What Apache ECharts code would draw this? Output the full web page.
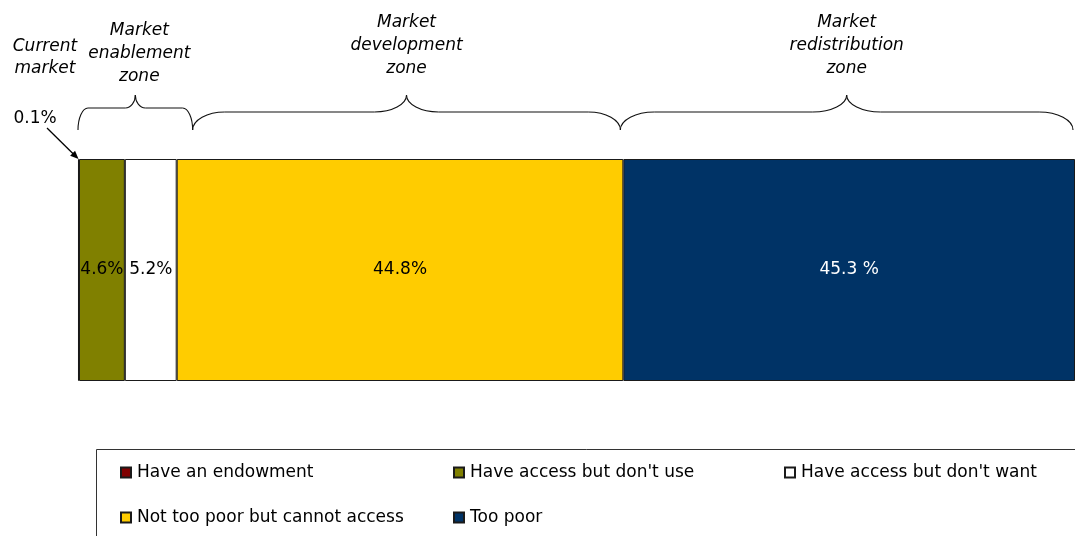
<!DOCTYPE html>
<html>
<head>
<meta charset="utf-8">
<script src="https://cdn.jsdelivr.net/npm/echarts@6/dist/echarts.min.js"></script>
<style>
  html, body { margin: 0; padding: 0; background: #ffffff; }
  #chart { width: 1075px; height: 536px; }
</style>
</head>
<body>
<div id="chart"></div>
<script>
// Population segments (share of total, %)
const categories = ['Population'];
const seriesNames = [
  'Have an endowment',
  "Have access but don't use",
  "Have access but don't want",
  'Not too poor but cannot access',
  'Too poor'
];
const seriesValues = [0.1, 4.6, 5.2, 44.8, 45.3];
const labelSuffixes = ['%', '%', '%', '%', ' %'];
const seriesColors = ['#800000', '#808000', '#ffffff', '#ffcc00', '#003366'];
const labelColors = ['#000000', '#000000', '#000000', '#000000', '#ffffff'];

// Zones marked by braces above the bar (start/end on the % axis)
const zoneNames = ['Market\nenablement\nzone', 'Market\ndevelopment\nzone', 'Market\nredistribution\nzone'];
const zoneSpans = [[0, 11.5], [11.5, 54.4], [54.4, 99.8]];
const zoneTextTop = [19, 11, 11];

// Legend layout: one legend per entry so the columns line up
const legendSlots = [[120, 464], [453, 464], [784, 464], [120, 509], [453, 509]];

const FONT = '"DejaVu Sans", Verdana, sans-serif';
const GRID = { left: 78, top: 159, height: 222, right: 0 };

const chart = echarts.init(document.getElementById('chart'), null, { renderer: 'canvas' });

const series = seriesNames.map((name, i) => ({
  name: name,
  type: 'bar',
  stack: 'total',
  barWidth: '100%',
  data: [seriesValues[i]],
  itemStyle: { color: seriesColors[i], borderColor: '#1a1a1a', borderWidth: 1 },
  label: {
    show: i > 0,
    position: 'inside',
    formatter: p => p.value.toFixed(1) + labelSuffixes[i],
    color: labelColors[i],
    fontFamily: FONT,
    fontSize: 17
  },
  emphasis: { disabled: true },
  animation: false
}));

const legends = seriesNames.map((name, i) => ({
  data: [name],
  left: legendSlots[i][0],
  top: legendSlots[i][1],
  padding: 0,
  icon: 'rect',
  itemWidth: 10,
  itemHeight: 10,
  itemGap: 0,
  selectedMode: false,
  textStyle: { fontFamily: FONT, fontSize: 17, color: '#000000', padding: [0, 0, 0, 1] }
}));

chart.setOption({
  animation: false,
  backgroundColor: '#ffffff',
  grid: GRID,
  xAxis: { type: 'value', min: 0, max: 100, show: false },
  yAxis: { type: 'category', data: categories, show: false },
  legend: legends,
  series: series
});

// Annotations: braces, zone titles, current-market pointer, legend frame
const braceStyle = { fill: null, stroke: '#111111', lineWidth: 1.1 };

function braceParts(x0, x1, yBase, yEnd, yPeak) {
  const w = x1 - x0;
  const r = Math.max(10, w * 0.075);
  const xm = (x0 + x1) / 2;
  const endDrop = yEnd - yBase;
  const rise = yBase - yPeak;
  const curve = (ax, ay, c1x, c1y, c2x, c2y, bx, by) => ({
    type: 'bezierCurve',
    shape: { x1: ax, y1: ay, cpx1: c1x, cpy1: c1y, cpx2: c2x, cpy2: c2y, x2: bx, y2: by },
    style: braceStyle,
    silent: true
  });
  const seg = (ax, ay, bx, by) => ({
    type: 'line',
    shape: { x1: ax, y1: ay, x2: bx, y2: by },
    style: braceStyle,
    silent: true
  });
  return [
    curve(x0, yEnd, x0, yBase + endDrop * 0.45, x0 + r * 0.45, yBase, x0 + r, yBase),
    seg(x0 + r, yBase, xm - r, yBase),
    curve(xm - r, yBase, xm - r * 0.45, yBase, xm, yBase - rise * 0.45, xm, yPeak),
    curve(xm, yPeak, xm, yBase - rise * 0.45, xm + r * 0.45, yBase, xm + r, yBase),
    seg(xm + r, yBase, x1 - r, yBase),
    curve(x1 - r, yBase, x1 - r * 0.45, yBase, x1, yBase + endDrop * 0.45, x1, yEnd)
  ];
}

const graphics = [];
zoneSpans.forEach((span, i) => {
  const x0 = chart.convertToPixel({ xAxisIndex: 0 }, span[0]);
  const x1 = chart.convertToPixel({ xAxisIndex: 0 }, span[1]);
  const yBase = i === 0 ? 108 : 112;
  braceParts(x0, x1, yBase, 130, 95).forEach(g => graphics.push(g));
  graphics.push({
    type: 'text',
    x: (x0 + x1) / 2 + (i === 0 ? 4 : 0),
    y: zoneTextTop[i],
    style: {
      text: zoneNames[i],
      font: 'italic 17px ' + FONT,
      fill: '#000000',
      align: 'center',
      verticalAlign: 'top',
      lineHeight: 23
    },
    silent: true
  });
});

graphics.push({
  type: 'text',
  x: 45,
  y: 36,
  style: {
    text: 'Current\nmarket',
    font: 'italic 17px ' + FONT,
    fill: '#000000',
    align: 'center',
    verticalAlign: 'top',
    lineHeight: 22
  },
  silent: true
});

// Pointer from the 0.1% label to the endowment sliver
const tipX = chart.convertToPixel({ xAxisIndex: 0 }, 0) + 0.5;
const tipY = GRID.top;
const startX = 47, startY = 128;
const ang = Math.atan2(tipY - startY, tipX - startX);
const head = 9, spread = 0.4;
graphics.push({
  type: 'text',
  x: 35,
  y: 119,
  style: {
    text: seriesValues[0].toFixed(1) + labelSuffixes[0],
    font: '17px ' + FONT,
    fill: '#000000',
    align: 'center',
    verticalAlign: 'middle'
  },
  silent: true
});
graphics.push({
  type: 'line',
  shape: {
    x1: startX, y1: startY,
    x2: tipX - Math.cos(ang) * head * 0.8, y2: tipY - Math.sin(ang) * head * 0.8
  },
  style: { stroke: '#000000', lineWidth: 1.3 },
  silent: true
});
graphics.push({
  type: 'polygon',
  shape: {
    points: [
      [tipX, tipY],
      [tipX - head * Math.cos(ang - spread), tipY - head * Math.sin(ang - spread)],
      [tipX - head * Math.cos(ang + spread), tipY - head * Math.sin(ang + spread)]
    ]
  },
  style: { fill: '#000000' },
  silent: true
});

// Legend frame
graphics.push({
  type: 'rect',
  shape: { x: 96.5, y: 449.5, width: 1000, height: 120 },
  style: { fill: null, stroke: '#333333', lineWidth: 1 },
  z: -1,
  silent: true
});

chart.setOption({ graphic: graphics });
</script>
</body>
</html>
